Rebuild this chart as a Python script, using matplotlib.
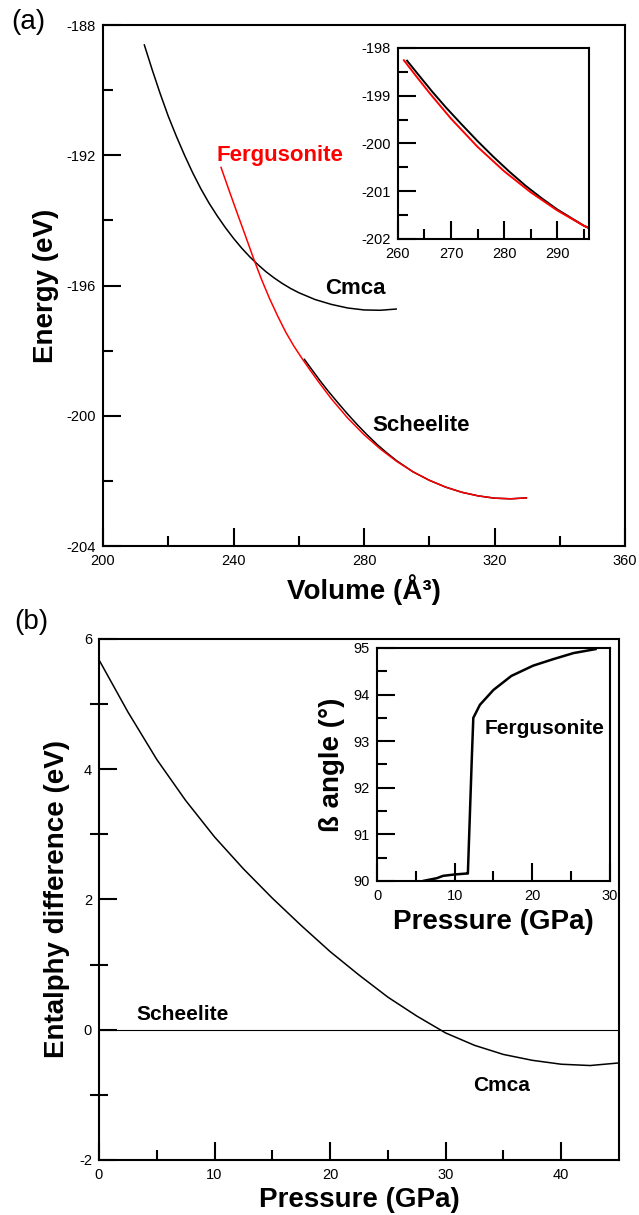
import numpy as np
import matplotlib
matplotlib.use('Agg')
import matplotlib.pyplot as plt

plt.rcParams['font.family'] = ['Liberation Sans', 'DejaVu Sans']
plt.rcParams['axes.unicode_minus'] = False

# ---- (a) energy vs volume ----
cmcaV = [212.6, 215, 217.5, 220, 222.5, 225, 227.5, 230, 232.5, 235, 237.5, 240, 242.5, 245, 247.5,
         250, 252.5, 255, 257.5, 260, 265, 270, 275, 280, 285, 290.1]
cmcaE = [-188.59, -189.35, -190.1, -190.8, -191.42, -192.0, -192.54, -193.03, -193.47, -193.86,
         -194.22, -194.55, -194.85, -195.12, -195.36, -195.58, -195.77, -195.94, -196.09, -196.22,
         -196.43, -196.58, -196.69, -196.75, -196.76, -196.72]

fergV = [236.1, 238.5, 241, 243.5, 246, 248.5, 251, 253.5, 256, 258.5, 261, 263.5, 266, 270, 275,
         280, 285, 290, 295, 300, 305, 310, 315, 320, 325, 330]
fergE = [-192.35, -193.04, -193.74, -194.43, -195.13, -195.79, -196.39, -196.93, -197.43, -197.86,
         -198.24, -198.60, -198.95, -199.48, -200.07, -200.58, -201.02, -201.40, -201.72, -201.98,
         -202.19, -202.35, -202.46, -202.53, -202.55, -202.52]

scheV = [261.6, 264, 266.5, 269, 272, 275, 278, 281, 284, 287, 290, 295, 300, 305, 310, 315, 320,
         325, 330]
scheE = [-198.25, -198.58, -198.92, -199.24, -199.60, -199.95, -200.28, -200.59, -200.88, -201.14,
         -201.38, -201.72, -201.98, -202.19, -202.35, -202.46, -202.53, -202.55, -202.52]

# ---- (b) enthalpy difference vs pressure ----
pressure = [0, 2.5, 5, 7.5, 10, 12.5, 15, 17.5, 20, 22.5, 25, 27.5, 30, 32.5, 35, 37.5, 40, 42.5, 45]
dH_cmca = [5.68, 4.88, 4.15, 3.52, 2.96, 2.47, 2.02, 1.60, 1.20, 0.84, 0.50, 0.21, -0.05, -0.24,
           -0.38, -0.47, -0.53, -0.55, -0.51]

# inset (b): beta angle of fergusonite
betaP = [5.9, 7.7, 8.5, 10.0, 11.5, 11.7, 12.2, 12.4, 13.25, 15.0, 17.3, 20.1, 22.7, 25.3, 28.3]
betaAngle = [90.0, 90.06, 90.11, 90.14, 90.16, 90.16, 92.6, 93.5, 93.78, 94.1, 94.4, 94.62, 94.76,
             94.89, 94.98]


def style_axes(ax, xmaj, xmin, ymaj, ymin, yminor_dir='in'):
    ax.set_xticks(xmaj)
    ax.set_xticks(xmin, minor=True)
    ax.set_yticks(ymaj)
    ax.set_yticks(ymin, minor=True)
    for s in ax.spines.values():
        s.set_linewidth(1.5)
    ax.tick_params(which='both', top=False, right=False, width=1.5, labelsize=10.5)
    ax.tick_params(which='major', direction='in', length=13)
    ax.tick_params(which='minor', direction='in', length=7)
    if yminor_dir == 'inout':
        ax.tick_params(axis='y', which='minor', direction='inout', length=13)
    ax.tick_params(axis='x', pad=6)
    ax.tick_params(axis='y', pad=5)


def set_labels(ax, xlab, ylab, xpos, ypos):
    ax.set_xlabel(xlab, fontsize=20, fontweight='bold')
    ax.set_ylabel(ylab, fontsize=20, fontweight='bold')
    ax.xaxis.label.set_va('center')
    ax.yaxis.label.set_va('center')
    ax.xaxis.set_label_coords(0.5, xpos)
    ax.yaxis.set_label_coords(ypos, 0.5)


fig = plt.figure(figsize=(6.39, 12.15), dpi=100)
lineKw = dict(solid_joinstyle='round', solid_capstyle='butt')

# panel (a)
axA = fig.add_axes([0.1612, 0.5506, 0.8169, 0.4288])
axA.plot(cmcaV, cmcaE, color='black', lw=1.1, **lineKw)
axA.plot(scheV, scheE, color='black', lw=1.1, **lineKw)
axA.plot(fergV, fergE, color='red', lw=1.1, **lineKw)
axA.set_xlim(200, 360)
axA.set_ylim(-204, -188)
style_axes(axA, np.arange(200, 361, 40), np.arange(220, 360, 40),
           np.arange(-204, -187, 4), np.arange(-202, -188, 4))
set_labels(axA, 'Volume (Å³)', 'Energy (eV)', -0.0845, -0.109)
axA.text(234.9, -192.0, 'Fergusonite', color='red', fontsize=16, fontweight='bold', va='center')
axA.text(268.0, -196.1, 'Cmca', fontsize=16, fontweight='bold', va='center')
axA.text(282.5, -200.3, 'Scheelite', fontsize=16, fontweight='bold', va='center')

# inset (a): only the part of fergusonite where scheelite is also computed
insA = fig.add_axes([0.6228, 0.8033, 0.2989, 0.1572])
k = fergV.index(261)
insA.plot(scheV, scheE, color='black', lw=1.4, **lineKw)
insA.plot(fergV[k:], fergE[k:], color='red', lw=1.4, **lineKw)
insA.set_xlim(260, 296)
insA.set_ylim(-202, -198)
style_axes(insA, [260, 270, 280, 290], [265, 275, 285, 295],
           np.arange(-202, -197.9, 1), np.arange(-201.5, -198, 1))

# panel (b)
axB = fig.add_axes([0.1549, 0.0453, 0.8138, 0.4288])
axB.plot(pressure, dH_cmca, color='black', lw=1.1, **lineKw)
axB.axhline(0, color='black', lw=0.8)
axB.set_xlim(0, 45)
axB.set_ylim(-2, 6)
style_axes(axB, [0, 10, 20, 30, 40], [5, 15, 25, 35], np.arange(-2, 7, 2), np.arange(-1, 6, 2),
           yminor_dir='inout')
set_labels(axB, 'Pressure (GPa)', 'Entalphy difference (eV)', -0.077, -0.08)
axB.text(3.2, 0.23, 'Scheelite', fontsize=15, fontweight='semibold', va='center')
axB.text(32.4, -0.86, 'Cmca', fontsize=15, fontweight='semibold', va='center')

# inset (b)
insB = fig.add_axes([0.590, 0.2749, 0.3646, 0.1918])
insB.plot(betaP, betaAngle, color='black', lw=1.8, **lineKw)
insB.set_xlim(0, 30)
insB.set_ylim(90, 95)
style_axes(insB, [0, 10, 20, 30], [5, 15, 25], np.arange(90, 95.1, 1), np.arange(90.5, 95, 1))
set_labels(insB, 'Pressure (GPa)', 'ß angle (°)', -0.176, -0.193)
insB.text(13.8, 93.27, 'Fergusonite', fontsize=15, fontweight='bold', va='center')

fig.text(0.018, 0.982, '(a)', fontsize=20, va='center')
fig.text(0.022, 0.488, '(b)', fontsize=20, va='center')

fig.savefig('out.png', dpi=100)
